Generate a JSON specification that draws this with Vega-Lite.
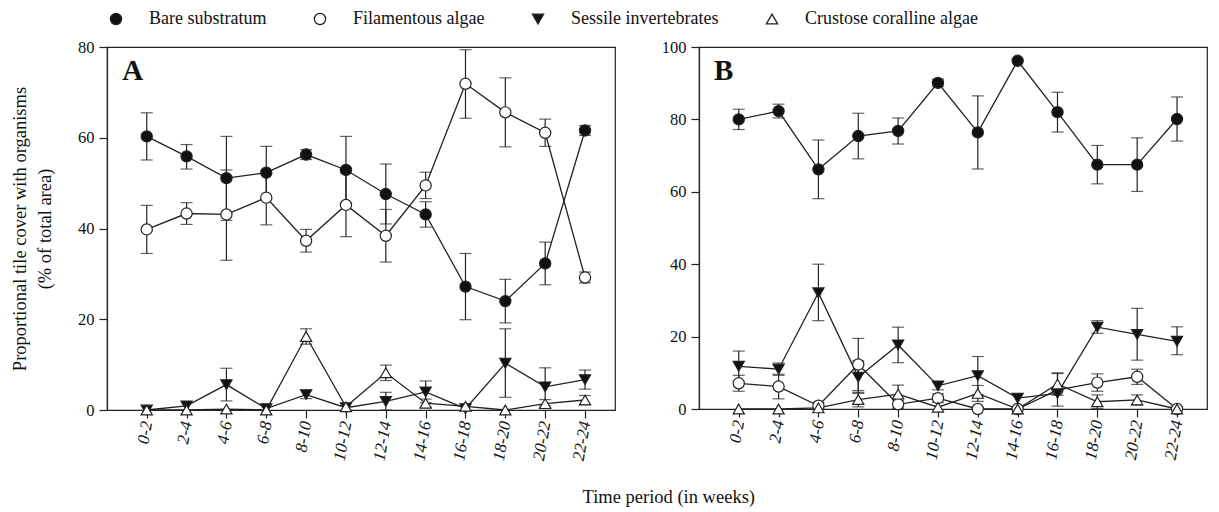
{
  "$schema": "https://vega.github.io/schema/vega-lite/v6.json",
  "padding": {"left": 9, "top": 10, "right": 8, "bottom": 4},
  "background": "white",
  "config": {
    "font": "Liberation Serif",
    "view": {"stroke": "#222", "strokeWidth": 1.2},
    "axis": {
      "grid": false,
      "labelFont": "Liberation Serif",
      "labelFontSize": 16.5,
      "labelColor": "#111",
      "domainColor": "#222",
      "domainWidth": 1.2,
      "tickColor": "#222",
      "tickWidth": 1.2,
      "tickSize": 8,
      "labelPadding": 5,
      "titleFont": "Liberation Serif",
      "titleFontSize": 18.5,
      "titleFontWeight": "normal",
      "titleColor": "#111"
    },
    "title": {"font": "Liberation Serif", "color": "#111"}
  },
  "datasets": {
    "cover": [
      {"panel": "A", "series": "Bare substratum", "period": "0-2", "cover": 60.3, "lo": 55.1, "hi": 65.5},
      {"panel": "A", "series": "Bare substratum", "period": "2-4", "cover": 55.9, "lo": 53.1, "hi": 58.5},
      {"panel": "A", "series": "Bare substratum", "period": "4-6", "cover": 51.1, "lo": 41.8, "hi": 60.3},
      {"panel": "A", "series": "Bare substratum", "period": "6-8", "cover": 52.3, "lo": 46.5, "hi": 58.1},
      {"panel": "A", "series": "Bare substratum", "period": "8-10", "cover": 56.3, "lo": 55.2, "hi": 57.4},
      {"panel": "A", "series": "Bare substratum", "period": "10-12", "cover": 52.9, "lo": 45.5, "hi": 60.3},
      {"panel": "A", "series": "Bare substratum", "period": "12-14", "cover": 47.6, "lo": 41.0, "hi": 54.2},
      {"panel": "A", "series": "Bare substratum", "period": "14-16", "cover": 43.1, "lo": 40.3, "hi": 45.9},
      {"panel": "A", "series": "Bare substratum", "period": "16-18", "cover": 27.2, "lo": 19.9, "hi": 34.5},
      {"panel": "A", "series": "Bare substratum", "period": "18-20", "cover": 24.0, "lo": 19.2, "hi": 28.8},
      {"panel": "A", "series": "Bare substratum", "period": "20-22", "cover": 32.3, "lo": 27.6, "hi": 37.0},
      {"panel": "A", "series": "Bare substratum", "period": "22-24", "cover": 61.6, "lo": 60.5, "hi": 62.7},

      {"panel": "A", "series": "Filamentous algae", "period": "0-2", "cover": 39.8, "lo": 34.5, "hi": 45.1},
      {"panel": "A", "series": "Filamentous algae", "period": "2-4", "cover": 43.3, "lo": 40.9, "hi": 45.7},
      {"panel": "A", "series": "Filamentous algae", "period": "4-6", "cover": 43.1, "lo": 33.0, "hi": 52.9},
      {"panel": "A", "series": "Filamentous algae", "period": "6-8", "cover": 46.8, "lo": 40.8, "hi": 52.8},
      {"panel": "A", "series": "Filamentous algae", "period": "8-10", "cover": 37.3, "lo": 34.8, "hi": 39.8},
      {"panel": "A", "series": "Filamentous algae", "period": "10-12", "cover": 45.2, "lo": 38.2, "hi": 52.2},
      {"panel": "A", "series": "Filamentous algae", "period": "12-14", "cover": 38.4, "lo": 32.6, "hi": 44.2},
      {"panel": "A", "series": "Filamentous algae", "period": "14-16", "cover": 49.5, "lo": 46.6, "hi": 52.4},
      {"panel": "A", "series": "Filamentous algae", "period": "16-18", "cover": 71.9, "lo": 64.3, "hi": 79.4},
      {"panel": "A", "series": "Filamentous algae", "period": "18-20", "cover": 65.6, "lo": 58.0, "hi": 73.2},
      {"panel": "A", "series": "Filamentous algae", "period": "20-22", "cover": 61.1, "lo": 58.1, "hi": 64.1},
      {"panel": "A", "series": "Filamentous algae", "period": "22-24", "cover": 29.2, "lo": 28.0, "hi": 30.4},

      {"panel": "A", "series": "Sessile invertebrates", "period": "0-2", "cover": 0.0},
      {"panel": "A", "series": "Sessile invertebrates", "period": "2-4", "cover": 0.9},
      {"panel": "A", "series": "Sessile invertebrates", "period": "4-6", "cover": 5.6, "lo": 2.0, "hi": 9.2},
      {"panel": "A", "series": "Sessile invertebrates", "period": "6-8", "cover": 0.3},
      {"panel": "A", "series": "Sessile invertebrates", "period": "8-10", "cover": 3.4, "lo": 2.5, "hi": 4.3},
      {"panel": "A", "series": "Sessile invertebrates", "period": "10-12", "cover": 0.5},
      {"panel": "A", "series": "Sessile invertebrates", "period": "12-14", "cover": 1.9, "lo": 0.0, "hi": 3.9},
      {"panel": "A", "series": "Sessile invertebrates", "period": "14-16", "cover": 4.0, "lo": 1.6, "hi": 6.4},
      {"panel": "A", "series": "Sessile invertebrates", "period": "16-18", "cover": 0.3},
      {"panel": "A", "series": "Sessile invertebrates", "period": "18-20", "cover": 10.3, "lo": 2.8, "hi": 17.9},
      {"panel": "A", "series": "Sessile invertebrates", "period": "20-22", "cover": 5.1, "lo": 0.9, "hi": 9.3},
      {"panel": "A", "series": "Sessile invertebrates", "period": "22-24", "cover": 6.7, "lo": 4.6, "hi": 8.8},

      {"panel": "A", "series": "Crustose coralline algae", "period": "0-2", "cover": 0.0},
      {"panel": "A", "series": "Crustose coralline algae", "period": "2-4", "cover": 0.0},
      {"panel": "A", "series": "Crustose coralline algae", "period": "4-6", "cover": 0.2},
      {"panel": "A", "series": "Crustose coralline algae", "period": "6-8", "cover": 0.0},
      {"panel": "A", "series": "Crustose coralline algae", "period": "8-10", "cover": 16.2, "lo": 14.5, "hi": 17.9},
      {"panel": "A", "series": "Crustose coralline algae", "period": "10-12", "cover": 0.7},
      {"panel": "A", "series": "Crustose coralline algae", "period": "12-14", "cover": 8.2, "lo": 6.5, "hi": 9.9},
      {"panel": "A", "series": "Crustose coralline algae", "period": "14-16", "cover": 1.5, "lo": 0.6, "hi": 2.4},
      {"panel": "A", "series": "Crustose coralline algae", "period": "16-18", "cover": 0.8},
      {"panel": "A", "series": "Crustose coralline algae", "period": "18-20", "cover": 0.0},
      {"panel": "A", "series": "Crustose coralline algae", "period": "20-22", "cover": 1.4, "lo": 0.5, "hi": 2.3},
      {"panel": "A", "series": "Crustose coralline algae", "period": "22-24", "cover": 2.2, "lo": 1.2, "hi": 3.2},

      {"panel": "B", "series": "Bare substratum", "period": "0-2", "cover": 80.0, "lo": 77.2, "hi": 82.8},
      {"panel": "B", "series": "Bare substratum", "period": "2-4", "cover": 82.3, "lo": 80.4, "hi": 84.2},
      {"panel": "B", "series": "Bare substratum", "period": "4-6", "cover": 66.2, "lo": 58.1, "hi": 74.3},
      {"panel": "B", "series": "Bare substratum", "period": "6-8", "cover": 75.4, "lo": 69.1, "hi": 81.7},
      {"panel": "B", "series": "Bare substratum", "period": "8-10", "cover": 76.8, "lo": 73.2, "hi": 80.4},
      {"panel": "B", "series": "Bare substratum", "period": "10-12", "cover": 90.1, "lo": 89.1, "hi": 91.1},
      {"panel": "B", "series": "Bare substratum", "period": "12-14", "cover": 76.4, "lo": 66.3, "hi": 86.5},
      {"panel": "B", "series": "Bare substratum", "period": "14-16", "cover": 96.2},
      {"panel": "B", "series": "Bare substratum", "period": "16-18", "cover": 82.0, "lo": 76.5, "hi": 87.5},
      {"panel": "B", "series": "Bare substratum", "period": "18-20", "cover": 67.5, "lo": 62.2, "hi": 72.8},
      {"panel": "B", "series": "Bare substratum", "period": "20-22", "cover": 67.5, "lo": 60.1, "hi": 74.9},
      {"panel": "B", "series": "Bare substratum", "period": "22-24", "cover": 80.1, "lo": 74.0, "hi": 86.2},

      {"panel": "B", "series": "Filamentous algae", "period": "0-2", "cover": 7.1, "lo": 4.9, "hi": 9.3},
      {"panel": "B", "series": "Filamentous algae", "period": "2-4", "cover": 6.2, "lo": 2.8, "hi": 9.6},
      {"panel": "B", "series": "Filamentous algae", "period": "4-6", "cover": 0.9, "lo": 0.0, "hi": 1.8},
      {"panel": "B", "series": "Filamentous algae", "period": "6-8", "cover": 12.3, "lo": 5.1, "hi": 19.5},
      {"panel": "B", "series": "Filamentous algae", "period": "8-10", "cover": 1.3, "lo": 0.2, "hi": 2.4},
      {"panel": "B", "series": "Filamentous algae", "period": "10-12", "cover": 3.0, "lo": 1.8, "hi": 4.2},
      {"panel": "B", "series": "Filamentous algae", "period": "12-14", "cover": 0.0},
      {"panel": "B", "series": "Filamentous algae", "period": "14-16", "cover": 0.0},
      {"panel": "B", "series": "Filamentous algae", "period": "16-18", "cover": 5.3, "lo": 0.8, "hi": 9.8},
      {"panel": "B", "series": "Filamentous algae", "period": "18-20", "cover": 7.3, "lo": 4.9, "hi": 9.7},
      {"panel": "B", "series": "Filamentous algae", "period": "20-22", "cover": 8.9, "lo": 6.8, "hi": 11.0},
      {"panel": "B", "series": "Filamentous algae", "period": "22-24", "cover": 0.0},

      {"panel": "B", "series": "Sessile invertebrates", "period": "0-2", "cover": 11.8, "lo": 7.6, "hi": 16.0},
      {"panel": "B", "series": "Sessile invertebrates", "period": "2-4", "cover": 11.0, "lo": 9.3, "hi": 12.7},
      {"panel": "B", "series": "Sessile invertebrates", "period": "4-6", "cover": 32.1, "lo": 24.4, "hi": 40.0},
      {"panel": "B", "series": "Sessile invertebrates", "period": "6-8", "cover": 8.8, "lo": 4.3, "hi": 13.3},
      {"panel": "B", "series": "Sessile invertebrates", "period": "8-10", "cover": 17.7, "lo": 12.8, "hi": 22.6},
      {"panel": "B", "series": "Sessile invertebrates", "period": "10-12", "cover": 6.4, "lo": 5.3, "hi": 7.5},
      {"panel": "B", "series": "Sessile invertebrates", "period": "12-14", "cover": 9.2, "lo": 3.9, "hi": 14.5},
      {"panel": "B", "series": "Sessile invertebrates", "period": "14-16", "cover": 3.0},
      {"panel": "B", "series": "Sessile invertebrates", "period": "16-18", "cover": 4.3},
      {"panel": "B", "series": "Sessile invertebrates", "period": "18-20", "cover": 22.6, "lo": 20.9, "hi": 24.4},
      {"panel": "B", "series": "Sessile invertebrates", "period": "20-22", "cover": 20.6, "lo": 13.5, "hi": 27.8},
      {"panel": "B", "series": "Sessile invertebrates", "period": "22-24", "cover": 18.7, "lo": 15.0, "hi": 22.7},

      {"panel": "B", "series": "Crustose coralline algae", "period": "0-2", "cover": 0.0},
      {"panel": "B", "series": "Crustose coralline algae", "period": "2-4", "cover": 0.0},
      {"panel": "B", "series": "Crustose coralline algae", "period": "4-6", "cover": 0.3},
      {"panel": "B", "series": "Crustose coralline algae", "period": "6-8", "cover": 2.6, "lo": 0.6, "hi": 4.6},
      {"panel": "B", "series": "Crustose coralline algae", "period": "8-10", "cover": 4.1, "lo": 1.6, "hi": 6.6},
      {"panel": "B", "series": "Crustose coralline algae", "period": "10-12", "cover": 0.5},
      {"panel": "B", "series": "Crustose coralline algae", "period": "12-14", "cover": 4.3, "lo": 2.1, "hi": 6.5},
      {"panel": "B", "series": "Crustose coralline algae", "period": "14-16", "cover": 0.0},
      {"panel": "B", "series": "Crustose coralline algae", "period": "16-18", "cover": 6.9, "lo": 3.8, "hi": 10.0},
      {"panel": "B", "series": "Crustose coralline algae", "period": "18-20", "cover": 2.0, "lo": 0.1, "hi": 3.9},
      {"panel": "B", "series": "Crustose coralline algae", "period": "20-22", "cover": 2.5, "lo": 1.1, "hi": 3.9},
      {"panel": "B", "series": "Crustose coralline algae", "period": "22-24", "cover": 0.0}
    ]
  },
  "title": {
    "text": "Time period (in weeks)",
    "orient": "bottom",
    "anchor": "middle",
    "fontSize": 18.5,
    "fontWeight": "normal",
    "offset": 26,
    "dx": 60
  },
  "spacing": 44,
  "resolve": {"scale": {"shape": "shared", "fill": "shared", "size": "shared"}},
  "hconcat": [
    {
      "width": 508,
      "height": 363,
      "data": {"name": "cover"},
      "transform": [{"filter": "datum.panel === 'A'"}],
      "encoding": {
        "x": {
          "field": "period",
          "type": "ordinal",
          "sort": ["0-2", "2-4", "4-6", "6-8", "8-10", "10-12", "12-14", "14-16", "16-18", "18-20", "20-22", "22-24"],
          "scale": {"type": "point", "padding": 0.875, "align": 0.57},
          "axis": {"title": null, "labelAngle": -80, "labelFontStyle": "italic", "labelPadding": 3, "labelFontSize": 17}
        }
      },
      "layer": [
        {
          "transform": [{"filter": "isValid(datum.lo)"}],
          "mark": {"type": "errorbar", "color": "#222", "thickness": 1.2, "ticks": {"size": 12, "thickness": 1.2, "color": "#222"}},
          "encoding": {
            "y": {"field": "lo", "type": "quantitative", "scale": {"domain": [0, 80], "nice": false}, "axis": {"title": ["Proportional tile cover with organisms", "(% of total area)"], "values": [0, 20, 40, 60, 80], "titleLineHeight": 25, "titlePadding": 23}},
            "y2": {"field": "hi"},
            "detail": {"field": "series"}
          }
        },
        {
          "mark": {"type": "line", "color": "#222", "strokeWidth": 1.3},
          "encoding": {
            "y": {"field": "cover", "type": "quantitative", "scale": {"domain": [0, 80], "nice": false}, "axis": {"title": ["Proportional tile cover with organisms", "(% of total area)"], "values": [0, 20, 40, 60, 80], "titleLineHeight": 25, "titlePadding": 23}},
            "detail": {"field": "series"}
          }
        },
        {
          "mark": {"type": "point", "filled": true, "stroke": "#222", "strokeWidth": 1.2, "opacity": 1},
          "encoding": {
            "y": {"field": "cover", "type": "quantitative", "scale": {"domain": [0, 80], "nice": false}, "axis": {"title": ["Proportional tile cover with organisms", "(% of total area)"], "values": [0, 20, 40, 60, 80], "titleLineHeight": 25, "titlePadding": 23}},
            "shape": {
              "field": "series",
              "type": "nominal",
              "scale": {"domain": ["Bare substratum", "Filamentous algae", "Sessile invertebrates", "Crustose coralline algae"], "range": ["circle", "circle", "triangle-down", "triangle-up"]},
              "legend": {
                "orient": "top",
                "direction": "horizontal",
                "title": null,
                "labelFont": "Liberation Serif",
                "labelFontSize": 18,
                "labelColor": "#111",
                "labelLimit": 0,
                "symbolSize": 144,
                "symbolStrokeColor": "#222",
                "symbolStrokeWidth": 1.3,
                "labelOffset": 24,
                "columnPadding": 44,
                "offset": 10
              }
            },
            "fill": {
              "field": "series",
              "type": "nominal",
              "scale": {"domain": ["Bare substratum", "Filamentous algae", "Sessile invertebrates", "Crustose coralline algae"], "range": ["#111", "white", "#111", "white"]}
            },
            "size": {
              "field": "series",
              "type": "nominal",
              "scale": {"domain": ["Bare substratum", "Filamentous algae", "Sessile invertebrates", "Crustose coralline algae"], "range": [125, 125, 165, 165]}
            }
          }
        },
        {
          "data": {"values": [{"panel": "A"}]},
          "mark": {"type": "text", "font": "Liberation Serif", "fontSize": 29, "fontWeight": "bold", "color": "#111", "align": "center", "baseline": "alphabetic", "dx": -14},
          "encoding": {
            "x": {"datum": "0-2"},
            "y": {"datum": 72.8},
            "text": {"field": "panel"}
          }
        }
      ]
    },
    {
      "width": 508,
      "height": 362,
      "data": {"name": "cover"},
      "transform": [{"filter": "datum.panel === 'B'"}],
      "encoding": {
        "x": {
          "field": "period",
          "type": "ordinal",
          "sort": ["0-2", "2-4", "4-6", "6-8", "8-10", "10-12", "12-14", "14-16", "16-18", "18-20", "20-22", "22-24"],
          "scale": {"type": "point", "padding": 0.875, "align": 0.57},
          "axis": {"title": null, "labelAngle": -80, "labelFontStyle": "italic", "labelPadding": 3, "labelFontSize": 17}
        }
      },
      "layer": [
        {
          "transform": [{"filter": "isValid(datum.lo)"}],
          "mark": {"type": "errorbar", "color": "#222", "thickness": 1.2, "ticks": {"size": 12, "thickness": 1.2, "color": "#222"}},
          "encoding": {
            "y": {"field": "lo", "type": "quantitative", "scale": {"domain": [0, 100], "nice": false}, "axis": {"title": null, "values": [0, 20, 40, 60, 80, 100]}},
            "y2": {"field": "hi"},
            "detail": {"field": "series"}
          }
        },
        {
          "mark": {"type": "line", "color": "#222", "strokeWidth": 1.3},
          "encoding": {
            "y": {"field": "cover", "type": "quantitative", "scale": {"domain": [0, 100], "nice": false}, "axis": {"title": null, "values": [0, 20, 40, 60, 80, 100]}},
            "detail": {"field": "series"}
          }
        },
        {
          "mark": {"type": "point", "filled": true, "stroke": "#222", "strokeWidth": 1.2, "opacity": 1},
          "encoding": {
            "y": {"field": "cover", "type": "quantitative", "scale": {"domain": [0, 100], "nice": false}, "axis": {"title": null, "values": [0, 20, 40, 60, 80, 100]}},
            "shape": {"field": "series", "type": "nominal"},
            "fill": {"field": "series", "type": "nominal"},
            "size": {"field": "series", "type": "nominal"}
          }
        },
        {
          "data": {"values": [{"panel": "B"}]},
          "mark": {"type": "text", "font": "Liberation Serif", "fontSize": 29, "fontWeight": "bold", "color": "#111", "align": "center", "baseline": "alphabetic", "dx": -15},
          "encoding": {
            "x": {"datum": "0-2"},
            "y": {"datum": 90.9},
            "text": {"field": "panel"}
          }
        }
      ]
    }
  ]
}
